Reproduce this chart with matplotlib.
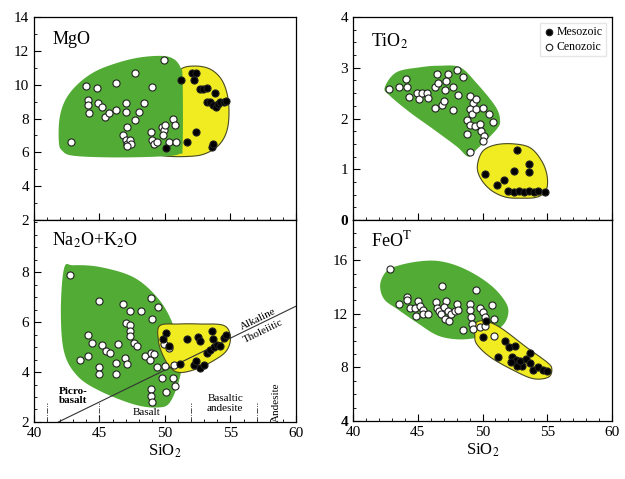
import numpy as np
import matplotlib
matplotlib.use("Agg")
import matplotlib.pyplot as plt
from matplotlib.ticker import MultipleLocator, FixedLocator

plt.rcParams['font.family'] = ['Liberation Serif', 'DejaVu Serif']
plt.rcParams['mathtext.fontset'] = 'stix'

# ---- data (SiO2 on x) ----
# MgO
mgo_ceno_x = [42.8, 44.0, 44.8, 44.1, 44.1, 44.2, 44.9, 45.2, 45.4, 45.7, 46.3, 46.3, 47.0, 47.0,
              47.7, 47.7, 48.05, 48.4, 47.1, 46.8, 47.0, 47.1, 47.3, 47.4, 47.1, 49.0, 49.9,
              48.9, 49.0, 49.2, 49.4, 49.8, 49.9, 49.85, 50.0, 50.6, 50.8, 50.3, 50.85]
mgo_ceno_y = [6.6, 9.9, 9.8, 9.1, 8.8, 8.3, 8.9, 8.7, 8.1, 8.3, 10.1, 8.5, 8.9, 8.4,
              10.7, 7.9, 8.4, 8.9, 7.5, 7.0, 6.7, 6.5, 6.7, 6.5, 6.4, 9.85, 11.45,
              7.2, 6.7, 6.5, 6.6, 7.5, 7.3, 7.0, 7.6, 8.0, 7.6, 6.6, 6.6]
mgo_meso_x = [51.2, 52.1, 52.4, 52.25, 52.7, 52.9, 53.25, 53.8, 53.2, 53.45, 53.7, 53.9, 54.05,
              54.2, 54.5, 54.7, 52.4, 51.7, 50.1, 53.6, 53.7]
mgo_meso_y = [10.3, 10.7, 10.7, 10.25, 9.75, 9.75, 9.8, 9.5, 9.0, 8.95, 8.8, 8.7, 8.85,
              9.0, 9.0, 9.05, 7.2, 6.6, 6.25, 6.3, 6.5]
mgo_green_x = [41.9, 41.95, 42.4, 43.3, 44.6, 46.2, 48.0, 49.8, 50.7, 51.2, 51.35, 51.35, 51.1,
               49.5, 46.0, 43.0, 42.15]
mgo_green_y = [6.6, 8.0, 9.1, 10.0, 10.75, 11.25, 11.6, 11.7, 11.5, 11.0, 10.3, 6.4, 5.9,
               5.75, 5.7, 5.8, 6.1]
mgo_yellow_x = [49.8, 51.5, 53.0, 54.2, 54.8, 54.85, 54.4, 53.5, 52.3, 51.2, 50.8, 50.8, 49.6]
mgo_yellow_y = [5.8, 5.75, 5.9, 6.5, 7.5, 9.0, 10.2, 10.9, 11.1, 10.9, 10.0, 7.0, 6.0]

# TiO2
tio_ceno_x = [42.8, 43.55, 44.1, 44.15, 44.3, 44.95, 45.1, 45.3, 45.7, 45.8, 46.3, 46.9, 47.0,
              46.45, 47.35, 48.0, 48.46, 46.3, 46.6, 47.2, 47.1, 47.7, 48.1, 47.7, 49.0, 49.3,
              49.5, 49.0, 49.2, 49.5, 50.0, 50.5, 50.8, 48.8, 49.07, 49.4, 49.8, 49.9, 50.1,
              50.0, 48.8, 49.0]
tio_ceno_y = [2.59, 2.63, 2.78, 2.63, 2.43, 2.5, 2.38, 2.5, 2.5, 2.4, 2.21, 2.26, 2.35,
              2.88, 2.88, 2.96, 2.81, 2.63, 2.7, 2.74, 2.57, 2.63, 2.46, 2.17, 2.45, 2.31,
              2.39, 2.18, 2.08, 2.18, 2.2, 2.08, 1.93, 1.98, 1.88, 1.85, 1.9, 1.75, 1.65,
              1.55, 1.69, 1.34]
tio_meso_x = [52.65, 50.2, 51.1, 51.65, 52.4, 53.6, 53.6, 52.0, 52.4, 52.8, 53.2, 53.6, 54.0, 54.3, 54.8]
tio_meso_y = [1.38, 0.91, 0.69, 0.79, 0.96, 1.11, 0.94, 0.57, 0.55, 0.58, 0.55, 0.57, 0.55, 0.58, 0.55]
tio_green_x = [42.45, 43.35, 45.2, 46.7, 48.26, 49.5, 50.97, 51.35, 51.1, 49.55, 48.9, 48.0, 46.2, 44.4, 42.84]
tio_green_y = [2.61, 2.91, 3.01, 3.04, 3.01, 2.71, 2.25, 1.98, 1.79, 1.39, 1.25, 1.45, 1.79, 2.12, 2.45]
tio_yellow_x = [49.6, 50.0, 51.0, 52.4, 53.7, 54.6, 55.0, 54.9, 54.2, 53.0, 51.8, 50.7, 49.9]
tio_yellow_y = [1.05, 1.35, 1.48, 1.5, 1.42, 1.15, 0.85, 0.58, 0.45, 0.43, 0.45, 0.58, 0.8]

# Na2O+K2O
alk_ceno_x = [42.75, 45.0, 46.8, 47.3, 48.15, 48.97, 49.5, 49.05, 47.0, 47.3, 47.3, 47.35, 44.1,
              44.4, 45.2, 45.5, 45.8, 46.45, 47.6, 47.9, 43.5, 44.15, 45.0, 44.95, 46.3, 46.3,
              46.95, 47.1, 48.5, 48.9, 49.2, 48.85, 49.4, 50.0, 50.7, 49.9, 50.3, 49.8, 50.65,
              50.8, 50.1, 48.97, 48.97, 49.0]
alk_ceno_y = [7.9, 6.86, 6.73, 6.46, 6.46, 6.97, 6.62, 6.12, 5.95, 5.9, 5.65, 5.45, 5.5,
              5.15, 5.1, 4.85, 4.78, 5.14, 5.15, 5.05, 4.48, 4.66, 4.21, 3.91, 4.38, 3.91,
              4.58, 4.32, 4.65, 4.78, 4.72, 4.5, 4.21, 4.25, 4.29, 5.14, 4.98, 3.75, 3.78,
              3.45, 3.18, 3.31, 3.04, 2.81]
alk_meso_x = [49.83, 50.1, 50.3, 51.7, 52.5, 52.7, 53.6, 53.65, 53.2, 53.45, 53.75, 54.0, 54.2,
              54.5, 54.7, 51.15, 52.2, 52.4, 52.65, 53.0]
alk_meso_y = [5.33, 5.56, 5.06, 5.33, 5.39, 5.26, 5.65, 5.33, 4.75, 4.9, 5.0, 5.1, 5.05,
              5.36, 5.5, 4.32, 4.29, 4.45, 4.18, 4.3]
alk_green_x = [42.3, 42.05, 42.3, 43.3, 45.0, 47.6, 49.4, 50.4, 51.2, 51.15, 50.5, 49.4, 47.6, 45.04, 43.0]
alk_green_y = [8.15, 6.45, 4.8, 3.85, 3.25, 2.71, 2.58, 2.8, 3.92, 4.85, 6.05, 6.99, 7.79, 8.2, 8.27]
alk_yellow_x = [49.6, 51.0, 52.7, 54.5, 55.0, 54.7, 53.7, 52.4, 51.15, 50.4, 49.8, 49.5]
alk_yellow_y = [5.85, 5.92, 5.92, 5.86, 5.4, 4.85, 4.45, 4.12, 3.98, 4.18, 4.72, 5.26]
divide_x = [41.86, 60.0]      # alkaline / tholeiitic divide
divide_y = [2.0, 6.63]
field_bounds = [41, 45, 52, 57]

# FeOT
feo_ceno_x = [42.84, 43.56, 44.2, 44.2, 44.4, 44.8, 45.05, 45.15, 45.4, 44.85, 45.4, 45.8, 46.84,
              46.4, 46.45, 46.65, 47.2, 47.05, 46.8, 47.3, 47.1, 47.45, 47.6, 47.9, 48.05, 48.1,
              48.46, 49.0, 49.05, 49.15, 49.2, 49.25, 49.5, 49.8, 50.0, 50.2, 49.8, 50.2, 50.7,
              50.9, 50.85]
feo_ceno_y = [15.38, 12.77, 13.26, 13.0, 12.47, 12.42, 12.96, 12.59, 12.27, 11.85, 11.98, 11.98, 14.07,
              12.9, 12.47, 12.2, 12.95, 12.5, 11.95, 12.2, 11.6, 11.5, 11.95, 12.2, 12.75, 12.25,
              10.8, 12.75, 12.25, 11.75, 11.25, 10.85, 13.75, 12.47, 12.1, 11.73, 11.04, 11.1, 12.64,
              11.65, 10.37]
feo_meso_x = [50.27, 50.06, 51.74, 52.07, 52.5, 51.2, 52.3, 52.55, 52.8, 53.05, 52.2, 52.65, 52.9,
              53.35, 53.7, 53.9, 54.3, 54.7, 55.0, 53.7]
feo_meso_y = [11.48, 10.3, 10.0, 9.5, 9.63, 8.77, 8.77, 8.55, 8.3, 8.1, 8.4, 8.1, 8.5,
              8.6, 9.1, 7.78, 8.02, 7.78, 7.73, 8.3]
feo_green_x = [42.1, 42.6, 43.5, 45.0, 46.5, 48.0, 49.5, 50.8, 51.7, 52.0, 51.7, 50.8, 49.5,
               48.0, 46.5, 45.0, 43.5, 42.4]
feo_green_y = [14.2, 15.2, 15.6, 15.9, 15.95, 15.6, 14.9, 14.0, 13.0, 12.2, 11.3, 10.6, 10.2,
               10.1, 10.4, 11.3, 12.3, 13.1]
feo_yellow_x = [49.4, 50.06, 51.35, 53.4, 54.97, 55.35, 55.1, 53.93, 52.4, 50.6, 49.55, 49.4]
feo_yellow_y = [11.23, 11.48, 10.99, 9.5, 8.4, 7.9, 7.28, 7.16, 7.78, 8.77, 9.75, 10.5]

GREEN = '#52ab35'
YELLOW = '#f1ec22'


def smooth(xs, ys, n=20):
    # closed Catmull-Rom curve through the outline points
    p = np.column_stack([xs, ys])
    m = len(p)
    out = []
    for i in range(m):
        p0, p1, p2, p3 = p[i - 1], p[i], p[(i + 1) % m], p[(i + 2) % m]
        t = np.linspace(0, 1, n, endpoint=False)[:, None]
        out.append(0.5 * ((2 * p1) + (-p0 + p2) * t + (2 * p0 - 5 * p1 + 4 * p2 - p3) * t ** 2
                          + (-p0 + 3 * p1 - 3 * p2 + p3) * t ** 3))
    out = np.vstack(out)
    return out[:, 0], out[:, 1]


def panel(ax, gx, gy, yx, yy, cx, cy, mx, my, green_on_top=False):
    sx, sy = smooth(gx, gy)
    ax.fill(sx, sy, color=GREEN, lw=0, zorder=3 if green_on_top else 1)
    sx, sy = smooth(yx, yy)
    ax.fill(sx, sy, facecolor=YELLOW, edgecolor='#4a4a20', lw=0.8, zorder=2)
    ax.scatter(cx, cy, s=26, facecolor='white', edgecolor='#222222', lw=0.8, zorder=5)
    ax.scatter(mx, my, s=26, facecolor='black', edgecolor='#222222', lw=0.8, zorder=6)
    ax.set_xlim(40, 60)
    ax.xaxis.set_major_locator(MultipleLocator(5))
    ax.xaxis.set_minor_locator(MultipleLocator(1))
    ax.tick_params(which='both', direction='in', top=False, right=False, labelsize=11)
    ax.tick_params(which='major', length=5)
    ax.tick_params(which='minor', length=2.5)
    for s in ax.spines.values():
        s.set_linewidth(0.9)


fig = plt.figure(figsize=(6.25, 4.79), dpi=100)
ax1 = fig.add_axes([0.0544, 0.5407, 0.419, 0.4238])
ax2 = fig.add_axes([0.5648, 0.5407, 0.4144, 0.4238])
ax3 = fig.add_axes([0.0544, 0.119, 0.419, 0.4217])
ax4 = fig.add_axes([0.5648, 0.121, 0.4144, 0.4197])

# MgO
panel(ax1, mgo_green_x, mgo_green_y, mgo_yellow_x, mgo_yellow_y,
      mgo_ceno_x, mgo_ceno_y, mgo_meso_x, mgo_meso_y, green_on_top=True)
ax1.set_ylim(2, 14)
ax1.yaxis.set_major_locator(MultipleLocator(2))
ax1.yaxis.set_minor_locator(MultipleLocator(1))
ax1.tick_params(labelbottom=False)
ax1.text(0.07, 0.93, 'MgO', transform=ax1.transAxes, fontsize=13, va='top')

# TiO2
panel(ax2, tio_green_x, tio_green_y, tio_yellow_x, tio_yellow_y,
      tio_ceno_x, tio_ceno_y, tio_meso_x, tio_meso_y)
ax2.set_ylim(0, 4)
ax2.yaxis.set_major_locator(MultipleLocator(1))
ax2.yaxis.set_minor_locator(MultipleLocator(0.25))
ax2.tick_params(labelbottom=False)
ax2.get_yticklabels()[1].set_fontweight('bold')
ax2.text(0.07, 0.93, 'TiO$_2$', transform=ax2.transAxes, fontsize=13, va='top')
ax2.scatter([], [], s=22, facecolor='black', edgecolor='#222222', lw=0.8, label='Mesozoic')
ax2.scatter([], [], s=22, facecolor='white', edgecolor='#222222', lw=0.8, label='Cenozoic')
leg = ax2.legend(loc='upper right', fontsize=8.5, handletextpad=0.1, borderpad=0.3,
                 labelspacing=0.2, handlelength=1.0, fancybox=False, framealpha=1,
                 edgecolor='#e6e6e6')

# Na2O+K2O
panel(ax3, alk_green_x, alk_green_y, alk_yellow_x, alk_yellow_y,
      alk_ceno_x, alk_ceno_y, alk_meso_x, alk_meso_y)
ax3.set_ylim(2, 10.08)
ax3.yaxis.set_major_locator(FixedLocator([2, 4, 6, 8]))
ax3.yaxis.set_minor_locator(MultipleLocator(0.5))
ax3.plot(divide_x, divide_y, color='#333333', lw=0.8, zorder=4)
ax3.vlines(field_bounds, 2, 2.75, colors='#333333', lw=0.6, linestyles='dashdot', zorder=4)
ang = ax3.transData.transform_angles(np.array([np.degrees(np.arctan2(divide_y[1] - divide_y[0],
                                                                     divide_x[1] - divide_x[0]))]),
                                     np.array([[50.0, 4.0]]))[0]
ax3.text(57.15, 6.1, 'Alkaline', rotation=ang, fontsize=8, ha='center', va='center',
         rotation_mode='anchor')
ax3.text(57.5, 5.62, 'Tholeiitic', rotation=ang, fontsize=8, ha='center', va='center',
         rotation_mode='anchor')
ax3.text(43.0, 3.05, 'Picro-\nbasalt', fontsize=8, fontweight='bold', ha='center', va='center',
         linespacing=1.0, zorder=4)
ax3.text(48.6, 2.37, 'Basalt', fontsize=8, ha='center', va='center')
ax3.text(54.6, 2.75, 'Basaltic\nandesite', fontsize=8, ha='center', va='center', linespacing=1.1)
ax3.text(58.55, 2.8, 'Andesite', fontsize=8, ha='center', va='center', rotation=90)
ax3.text(0.07, 0.95, 'Na$_2$O+K$_2$O', transform=ax3.transAxes, fontsize=13, va='top')
ax3.set_xlabel('SiO$_2$', fontsize=12, labelpad=2)

# FeOT
panel(ax4, feo_green_x, feo_green_y, feo_yellow_x, feo_yellow_y,
      feo_ceno_x, feo_ceno_y, feo_meso_x, feo_meso_y)
ax4.set_ylim(4, 19)
ax4.yaxis.set_major_locator(FixedLocator([4, 8, 12, 16]))
ax4.yaxis.set_minor_locator(MultipleLocator(1))
ax4.get_yticklabels()[0].set_fontweight('bold')
ax4.text(0.07, 0.95, 'FeO$^\\mathrm{T}$', transform=ax4.transAxes, fontsize=13, va='top')
ax4.set_xlabel('SiO$_2$', fontsize=12, labelpad=2)

fig.savefig('out.png', dpi=100)
